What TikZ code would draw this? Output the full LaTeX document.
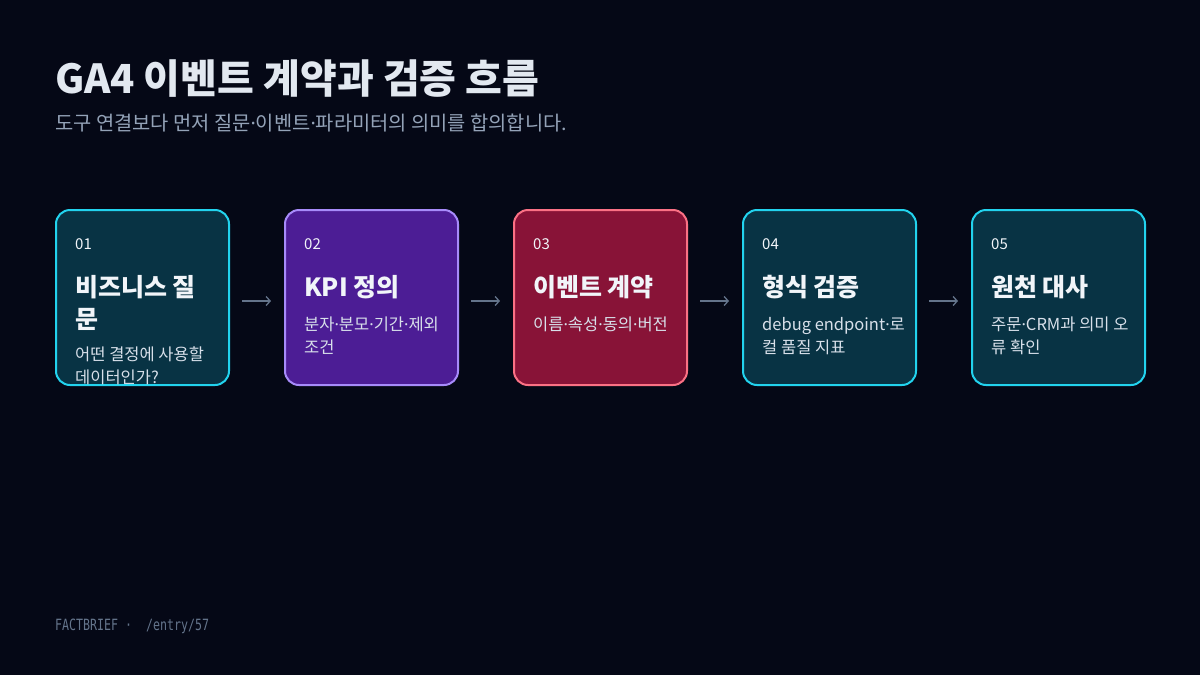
\documentclass[tikz,border=0pt]{standalone}
\usepackage{fontspec}
\setmainfont{Noto Sans CJK KR}
\newfontfamily\dotfont{Noto Sans}
\newfontfamily\footfont[FakeStretch=0.75]{DejaVu Sans Mono}
\newcommand\kdot{{\dotfont ·}}
\usetikzlibrary{arrows.meta}

\definecolor{bgc}{HTML}{050816}
\definecolor{cyanfill}{HTML}{083344}
\definecolor{cyanline}{HTML}{22D3EE}
\definecolor{violetfill}{HTML}{4C1D95}
\definecolor{violetline}{HTML}{A78BFA}
\definecolor{rosefill}{HTML}{881337}
\definecolor{roseline}{HTML}{FB7185}
\definecolor{titletxt}{HTML}{E2E8F0}
\definecolor{subtxt}{HTML}{94A3B8}
\definecolor{cardtxt}{HTML}{F1F5F9}
\definecolor{desctxt}{HTML}{D8E0EA}
\definecolor{arrowc}{HTML}{64748B}

\begin{document}
\begin{tikzpicture}[x=1pt,y=-1pt,
  card/.style 2 args={fill=#1,draw=#2,line width=2pt,rounded corners=14pt,minimum width=173pt,minimum height=175pt,inner sep=0pt},
  num/.style={anchor=base west,inner sep=0pt,text=cardtxt,font=\fontsize{15}{18}\selectfont},
  head/.style={anchor=north west,inner sep=0pt,align=left,text=cardtxt,font=\bfseries\fontsize{25}{32}\selectfont},
  desc/.style={anchor=north west,inner sep=0pt,align=left,text=desctxt,font=\fontsize{16.5}{23}\selectfont},
  flow/.style={draw=arrowc,line width=1.3pt,-{Straight Barb[length=4pt,width=9pt]},shorten <=12pt,shorten >=13pt}]
% Background
\fill[bgc] (0,0) rectangle (1200,675);
\useasboundingbox (0,0) rectangle (1200,675);

% Title
\node[anchor=base west,inner sep=0pt,text=titletxt,font=\bfseries\fontsize{40}{46}\selectfont] (title) at (55,93.5) {GA4 이벤트 계약과 검증 흐름};
\node[anchor=base west,inner sep=0pt,text=subtxt,font=\fontsize{19.8}{24}\selectfont] (subtitle) at (55,130.5) {도구 연결보다 먼저 질문\kdot 이벤트\kdot 파라미터의 의미를 합의합니다.};

% Step cards
\node[card={cyanfill}{cyanline}] (b1) at (142.5,297.5) {};
\node[card={violetfill}{violetline}] (b2) at (371.5,297.5) {};
\node[card={rosefill}{roseline}] (b3) at (600.5,297.5) {};
\node[card={cyanfill}{cyanline}] (b4) at (829.5,297.5) {};
\node[card={cyanfill}{cyanline}] (b5) at (1058.5,297.5) {};

% Card 01
\node[num] (n1) at ([shift={(20,40)}]b1.north west) {01};
\node[head] (h1) at ([shift={(20,66)}]b1.north west) {비즈니스 질\\문};
\node[desc] (d1) at ([shift={(20,138)}]b1.north west) {어떤 결정에 사용할\\데이터인가?};

% Card 02
\node[num] (n2) at ([shift={(20,40)}]b2.north west) {02};
\node[head] (h2) at ([shift={(20,66)}]b2.north west) {KPI 정의};
\node[desc] (d2) at ([shift={(20,108)}]b2.north west) {분자\kdot 분모\kdot 기간\kdot 제외\\조건};

% Card 03
\node[num] (n3) at ([shift={(20,40)}]b3.north west) {03};
\node[head] (h3) at ([shift={(20,66)}]b3.north west) {이벤트 계약};
\node[desc] (d3) at ([shift={(20,108)}]b3.north west) {이름\kdot 속성\kdot 동의\kdot 버전};

% Card 04
\node[num] (n4) at ([shift={(20,40)}]b4.north west) {04};
\node[head] (h4) at ([shift={(20,66)}]b4.north west) {형식 검증};
\node[desc] (d4) at ([shift={(20,108)}]b4.north west) {debug endpoint\kdot 로\\컬 품질 지표};

% Card 05
\node[num] (n5) at ([shift={(20,40)}]b5.north west) {05};
\node[head] (h5) at ([shift={(20,66)}]b5.north west) {원천 대사};
\node[desc] (d5) at ([shift={(20,108)}]b5.north west) {주문\kdot CRM과 의미 오\\류 확인};

% Flow arrows
\draw[flow] ([yshift=-3.5pt]b1.east) -- ([yshift=-3.5pt]b2.west);
\draw[flow] ([yshift=-3.5pt]b2.east) -- ([yshift=-3.5pt]b3.west);
\draw[flow] ([yshift=-3.5pt]b3.east) -- ([yshift=-3.5pt]b4.west);
\draw[flow] ([yshift=-3.5pt]b4.east) -- ([yshift=-3.5pt]b5.west);

% Footer
\node[anchor=base west,inner sep=0pt,text=arrowc,font=\footfont\fontsize{15.5}{18}\selectfont] (foot) at (55,630) {FACTBRIEF ·\ \ /entry/57};
\end{tikzpicture}
\end{document}
